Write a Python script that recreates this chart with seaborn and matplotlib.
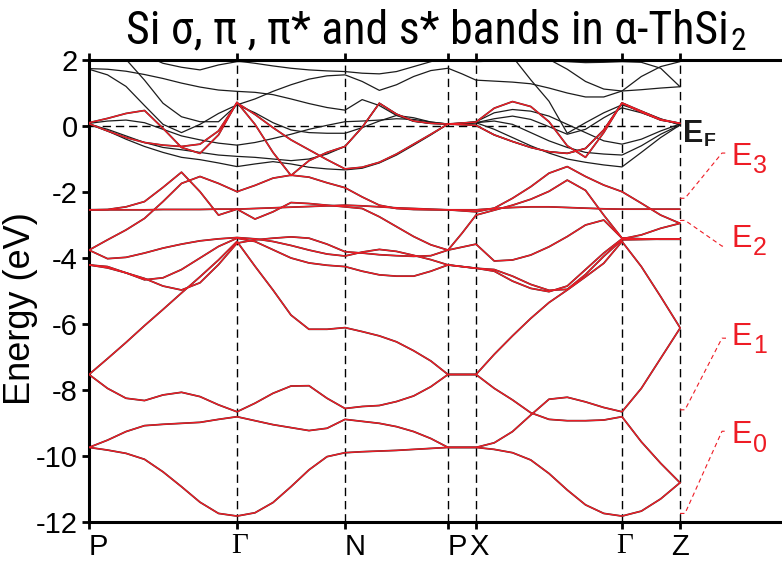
import numpy as np
import pandas as pd
import matplotlib
matplotlib.use("Agg")
import matplotlib.pyplot as plt
import seaborn as sns
from matplotlib.transforms import ScaledTranslation

sns.set_theme(style="white")
plt.rcParams['font.family'] = ['Liberation Sans', 'DejaVu Sans']
plt.rcParams['axes.unicode_minus'] = False

# ---- k-path -------------------------------------------------------------
kpoint_labels = ["P", "Γ", "N", "P", "X", "Γ", "Z"]
kpoint_dist = [0.0, 1.48, 2.56, 3.59, 3.87, 5.33, 5.91]
samples_per_segment = [8, 6, 6, 2, 8, 3]

k = [kpoint_dist[0]]
for a, b, n in zip(kpoint_dist[:-1], kpoint_dist[1:], samples_per_segment):
    k.extend(np.linspace(a, b, n + 1)[1:])
k = np.array(k)

# ---- Si-projected bands (eV), sampled along P-Γ-N-P-X-Γ-Z ----------------
si_e0_low = [-9.74, -9.82, -9.92, -10.10, -10.48, -10.93, -11.40, -11.74, -11.82,
             -11.72, -11.41, -10.93, -10.42, -10.02, -9.90,
             -9.87, -9.85, -9.83, -9.80, -9.77, -9.74,
             -9.74, -9.74,
             -9.80, -9.90, -10.12, -10.53, -11.03, -11.48, -11.74, -11.82,
             -11.67, -11.30, -10.81]
si_e0_high = [-9.74, -9.52, -9.26, -9.08, -9.04, -9.01, -8.98, -8.89, -8.81,
              -8.93, -9.05, -9.14, -9.23, -9.16, -8.89,
              -8.95, -9.01, -9.11, -9.26, -9.47, -9.74,
              -9.74, -9.74,
              -9.60, -9.26, -8.76, -8.28, -8.22, -8.36, -8.53, -8.66,
              -7.95, -7.04, -6.13]
si_e1_low = [-7.53, -7.95, -8.25, -8.32, -8.15, -8.07, -8.20, -8.45, -8.66,
             -8.40, -8.10, -7.88, -7.87, -8.25, -8.56,
             -8.50, -8.47, -8.35, -8.18, -7.90, -7.53,
             -7.53, -7.53,
             -7.95, -8.30, -8.69, -8.89, -8.93, -8.93, -8.91, -8.81,
             -9.57, -10.22, -10.81]
si_e1_high = [-7.53, -7.05, -6.56, -6.05, -5.56, -5.06, -4.57, -4.06, -3.50,
              -4.25, -4.97, -5.73, -6.16, -6.16, -6.11,
              -6.23, -6.36, -6.54, -6.81, -7.12, -7.53,
              -7.53, -7.53,
              -6.92, -6.36, -5.83, -5.35, -4.97, -4.57, -4.16, -3.50,
              -4.26, -5.17, -6.11]
si_e2_flat = [-2.54, -2.54, -2.54, -2.54, -2.53, -2.53, -2.53, -2.52, -2.52,
              -2.50, -2.48, -2.46, -2.44, -2.42, -2.40,
              -2.42, -2.45, -2.48, -2.50, -2.52, -2.54,
              -2.54, -2.54,
              -2.50, -2.47, -2.45, -2.45, -2.47, -2.49, -2.51, -2.52,
              -2.52, -2.52, -2.52]
si_e2_a = [-2.54, -2.53, -2.45, -2.29, -1.86, -1.40, -1.99, -2.70, -2.52,
           -2.82, -2.60, -2.32, -2.35, -2.40, -2.45,
           -2.50, -2.75, -3.05, -3.35, -3.60, -3.76,
           -3.25, -2.70,
           -2.55, -2.40, -2.22, -1.98, -1.64, -1.95, -2.70, -3.40,
           -3.42, -3.43, -3.43]
si_e2_b = [-3.76, -3.45, -3.15, -2.80, -2.29, -1.74, -1.53, -1.74, -1.99,
           -1.80, -1.58, -1.49, -1.55, -1.72, -1.87,
           -2.15, -2.40, -2.50, -2.53, -2.54, -2.54,
           -2.57, -2.60,
           -2.49, -2.19, -1.84, -1.43, -1.23, -1.53, -1.79, -1.99,
           -2.34, -2.70, -2.95]
si_e2_c = [-3.76, -4.02, -3.98, -3.85, -3.70, -3.58, -3.48, -3.42, -3.38,
           -3.42, -3.50, -3.62, -3.76, -3.88, -3.94,
           -3.82, -3.74, -3.80, -3.92, -4.05, -4.21,
           -4.26, -4.31,
           -4.35, -4.55, -4.80, -4.98, -4.95, -4.50, -3.95, -3.45,
           -3.44, -3.43, -3.43]
si_e2_d = [-4.21, -4.26, -4.45, -4.66, -4.60, -4.35, -4.00, -3.65, -3.40,
           -3.50, -3.75, -4.00, -4.15, -4.22, -4.26,
           -4.40, -4.51, -4.55, -4.55, -4.40, -4.21,
           -4.26, -4.31,
           -4.40, -4.70, -4.92, -5.02, -4.85, -4.35, -3.85, -3.42,
           -3.30, -3.10, -2.95]
si_e2_e = [-4.21, -4.30, -4.45, -4.62, -4.85, -4.97, -4.75, -4.20, -3.55,
           -3.45, -3.40, -3.36, -3.40, -3.58, -3.81,
           -3.85, -3.90, -3.93, -3.95, -3.93, -3.76,
           -3.67, -3.58,
           -4.09, -4.06, -3.91, -3.66, -3.35, -3.00, -2.85, -3.40,
           -3.42, -3.43, -3.43]
si_pi_a = [0.10, 0.23, 0.38, 0.47, -0.07, -0.65, -0.83, -0.27, 0.72,
           0.05, -0.80, -1.50, -1.05, -0.80, -0.62,
           -0.04, 0.69, 0.36, 0.15, 0.08, 0.06,
           0.09, 0.12,
           0.54, 0.74, 0.59, 0.13, -0.60, -0.95, -0.20, 0.70,
           0.45, 0.20, 0.08]
si_pi_b = [0.07, -0.15, -0.35, -0.50, -0.58, -0.62, -0.55, -0.15, 0.70,
           0.35, -0.05, -0.42, -0.72, -1.02, -1.30,
           -1.25, -1.10, -0.85, -0.55, -0.25, 0.06,
           0.04, 0.02,
           -0.27, -0.47, -0.65, -0.78, -0.83, -0.68, -0.12, 0.69,
           0.42, 0.18, 0.08]

# ---- remaining (Th-derived) bands of the full structure -----------------
th_1 = [1.74, 1.72, 1.66, 1.56, 1.44, 1.30, 1.18, 1.09, 1.05,
        1.02, 0.95, 0.82, 0.68, 0.56, 0.48,
        0.80, 0.62, 0.32, 0.14, 0.08, 0.06,
        0.09, 0.13,
        0.40, 0.50, 0.45, 0.30, 0.05, -0.20, -0.45, -0.55,
        -0.40, -0.15, 0.06]
th_2 = [1.72, 1.55, 1.20, 0.62, 0.05, -0.20, 0.05, 0.38, 0.64,
        0.40, 0.10, -0.12, -0.20, -0.22, -0.22,
        -0.05, 0.15, 0.32, 0.25, 0.12, 0.06,
        0.06, 0.10,
        0.15, 0.05, -0.20, -0.45, -0.65, -0.80, -0.85, -0.88,
        -0.60, -0.25, 0.03]
th_3 = [2.60, 2.30, 2.02, 1.39, 0.69, 0.28, 0.13, 0.13, 0.64,
        0.82, 1.05, 1.25, 1.42, 1.52, 1.55,
        1.35, 1.08, 1.25, 1.50, 1.68, 1.75,
        1.58, 1.39,
        1.36, 1.33, 1.28, 1.15, 1.00, 0.88, 0.88, 1.06,
        1.50, 1.80, 1.95]
th_4 = [2.80, 2.60, 2.40, 2.15, 1.90, 1.78, 1.70, 1.85, 1.95,
        1.96, 1.98, 2.00, 1.99, 1.97, 1.96,
        1.96, 1.97, 1.98, 1.98, 1.98, 1.98,
        1.97, 1.95,
        1.97, 2.00, 2.00, 1.98, 1.95, 1.92, 1.93, 1.95,
        1.93, 1.75, 1.19]
th_5 = [0.08, 0.15, 0.18, 0.10, -0.10, -0.30, -0.42, -0.52, -0.58,
        -0.50, -0.38, -0.25, -0.10, 0.02, 0.13,
        0.15, 0.18, 0.22, 0.20, 0.12, 0.06,
        0.07, 0.10,
        0.22, 0.30, 0.20, -0.02, -0.25, -0.10, 0.25, 0.55,
        0.40, 0.20, 0.05]
th_6 = [0.05, -0.10, -0.30, -0.50, -0.65, -0.72, -0.80, -0.88, -0.92,
        -0.95, -1.00, -1.05, -1.00, -0.85, -0.62,
        -0.04, 0.69, 0.36, 0.15, 0.08, 0.06,
        0.08, 0.10,
        -0.10, -0.35, -0.60, -0.82, -1.00, -1.10, -1.18, -1.24,
        -0.80, -0.35, 0.03]
th_7 = [0.05, -0.15, -0.40, -0.62, -0.80, -0.95, -1.02, -1.12, -1.23,
        -1.15, -1.08, -1.15, -1.25, -1.30, -1.33,
        -1.28, -1.12, -0.88, -0.58, -0.27, 0.06,
        0.04, 0.02,
        -0.27, -0.47, -0.65, -0.78, -0.83, -0.68, -0.12, 0.69,
        0.42, 0.18, 0.08]
th_8 = [3.20, 3.00, 2.80, 2.60, 2.40, 2.20, 2.05, 1.98, 1.97,
        1.90, 1.82, 1.75, 1.70, 1.67, 1.65,
        1.60, 1.58, 1.65, 1.80, 1.95, 2.10,
        2.20, 2.30,
        2.45, 2.35, 2.20, 2.02, 1.72, 1.35, 1.12, 1.06,
        1.10, 1.15, 1.19]
th_9 = [np.nan] * 22 + [2.90,
        2.55, 2.10, 1.40, 0.75, -0.22, 0.10, 0.40, 0.64,
        0.45, 0.22, 0.03]

si_bands = {"e0a": si_e0_low, "e0b": si_e0_high, "e1a": si_e1_low, "e1b": si_e1_high,
            "e2f": si_e2_flat, "e2a": si_e2_a, "e2b": si_e2_b, "e2c": si_e2_c,
            "e2d": si_e2_d, "e2e": si_e2_e, "pia": si_pi_a, "pib": si_pi_b}
th_bands = {"t1": th_1, "t2": th_2, "t3": th_3, "t4": th_4, "t5": th_5,
            "t6": th_6, "t7": th_7, "t8": th_8, "t9": th_9}

# Si band groups: bracket leaves the Z line at group_start, label sits at group_label
group_names = ["0", "1", "2", "3"]
group_start = [-11.74, -8.60, -2.86, -2.19]
group_end = [-9.25, -6.43, -3.64, -0.82]
group_label = [-9.62, -6.64, -3.66, -1.18]


def long_frame(bands):
    rows = []
    for name, energies in bands.items():
        piece = 0
        for kk, ee in zip(k, np.asarray(energies, float)):
            if np.isnan(ee):
                piece += 1
                continue
            rows.append((kk, ee, f"{name}-{piece}"))
    return pd.DataFrame(rows, columns=["k", "E", "band"])


df_th = long_frame(th_bands)
df_si = long_frame(si_bands)

W, H = 782, 561
fig = plt.figure(figsize=(W / 100, H / 100), dpi=100)
fig.patch.set_facecolor("white")
ax = fig.add_axes([89 / W, 1 - 522 / H, (W - 89) / W, (522 - 60) / H])
ax.set_facecolor("white")

# guide lines: high-symmetry points and Fermi level
for kd in kpoint_dist[1:]:
    ax.axvline(kd, color="black", lw=1.0, dashes=(6, 3.5), zorder=1)
ax.plot([kpoint_dist[0], kpoint_dist[-1]], [0, 0], color="black", lw=1.0,
        dashes=(6, 3.5), zorder=1)

sns.lineplot(data=df_th, x="k", y="E", units="band", estimator=None, sort=False,
             color="#1c1c1c", lw=0.9, ax=ax, legend=False, zorder=2)
sns.lineplot(data=df_si, x="k", y="E", units="band", estimator=None, sort=False,
             color="#303030", lw=1.25, ax=ax, legend=False, zorder=3)
sns.lineplot(data=df_si, x="k", y="E", units="band", estimator=None, sort=False,
             color="#ee1c25", lw=1.0, ax=ax, legend=False, zorder=4)

ax.set_xlim(0, 6.93)
ax.set_ylim(-12, 2)
ax.set_xlabel("")
ax.set_ylabel("")

for side in ["left", "top", "bottom"]:
    ax.spines[side].set_visible(True)
    ax.spines[side].set_color("black")
    ax.spines[side].set_linewidth(2.2)
ax.spines["right"].set_visible(False)

ax.set_yticks(np.arange(-12, 3, 2))
ax.set_yticklabels([f"{v:d}" for v in np.arange(-12, 3, 2)], fontsize=21)
ax.set_xticks(kpoint_dist)
ax.set_xticklabels(kpoint_labels, fontsize=21)
ax.tick_params(axis="both", direction="out", length=5, width=2, color="black",
               labelcolor="black", pad=3)
ax.tick_params(axis="x", top=True, bottom=True, labeltop=False)
ax.tick_params(axis="y", left=True, right=False)

for lab, txt in zip(ax.get_xticklabels(), kpoint_labels):
    if txt == "Γ":
        lab.set_fontfamily(["Liberation Serif", "DejaVu Serif"])
        lab.set_transform(lab.get_transform() + ScaledTranslation(3 / 100, 0, fig.dpi_scale_trans))
    elif txt in ("P", "N"):
        lab.set_horizontalalignment("left")
    elif txt == "X":
        lab.set_transform(lab.get_transform() + ScaledTranslation(3 / 100, 0, fig.dpi_scale_trans))

# title in a condensed face, sized to span the plot width, with subscript 2
title_family = ["Roboto Condensed", "Liberation Sans Narrow", "Liberation Sans"]
base_y = (H - 43) / H
title = fig.text(0, base_y, "Si σ, π , π* and s* bands in α-ThSi", ha="left",
                 va="baseline", fontsize=29, family=title_family,
                 fontstretch="condensed", color="black")
sub = fig.text(0, base_y - 7 / H, "2", ha="left", va="baseline",
               fontsize=29 * 0.68, family=title_family, fontstretch="condensed",
               color="black")
renderer = fig.canvas.get_renderer()
w1 = title.get_window_extent(renderer).width
w2 = sub.get_window_extent(renderer).width
scale = 620.0 / (w1 + w2 + 1)
title.set_fontsize(29 * scale)
sub.set_fontsize(29 * 0.68 * scale)
w1 = title.get_window_extent(renderer).width
w2 = sub.get_window_extent(renderer).width
x0 = 436 - (w1 + 1 + w2) / 2
title.set_x(x0 / W)
sub.set_x((x0 + w1 + 1) / W)

fig.text(21 / W, 1 - 309 / H, "Energy (eV)", rotation=90, ha="center",
         va="center", fontsize=26, color="black")

# Fermi level label
ax.text(5.94, -0.48, "E", fontsize=22, fontweight="bold", ha="left", va="baseline",
        color="#1a1a1a")
ax.text(6.15, -0.60, "F", fontsize=14, fontweight="bold", ha="left", va="baseline",
        color="#1a1a1a")

# bracket annotations for the Si band groups
red = "#ee1c25"
kz = kpoint_dist[-1]
for name, e_start, e_end, e_lab in zip(group_names, group_start, group_end, group_label):
    bx = [kz, kz + 0.05, kz + 0.42, kz + 0.46]
    by = [e_start, e_start, e_end, e_end]
    ax.plot(bx, by, color=red, lw=0.8, dashes=(4, 3), zorder=4, clip_on=False)
    ax.text(kz + 0.51, e_lab, "E", fontsize=22, color=red, ha="left", va="baseline")
    ax.text(kz + 0.73, e_lab - 0.25, name, fontsize=18, color=red,
            ha="left", va="baseline")

fig.savefig("out.png", dpi=100, facecolor="white")
